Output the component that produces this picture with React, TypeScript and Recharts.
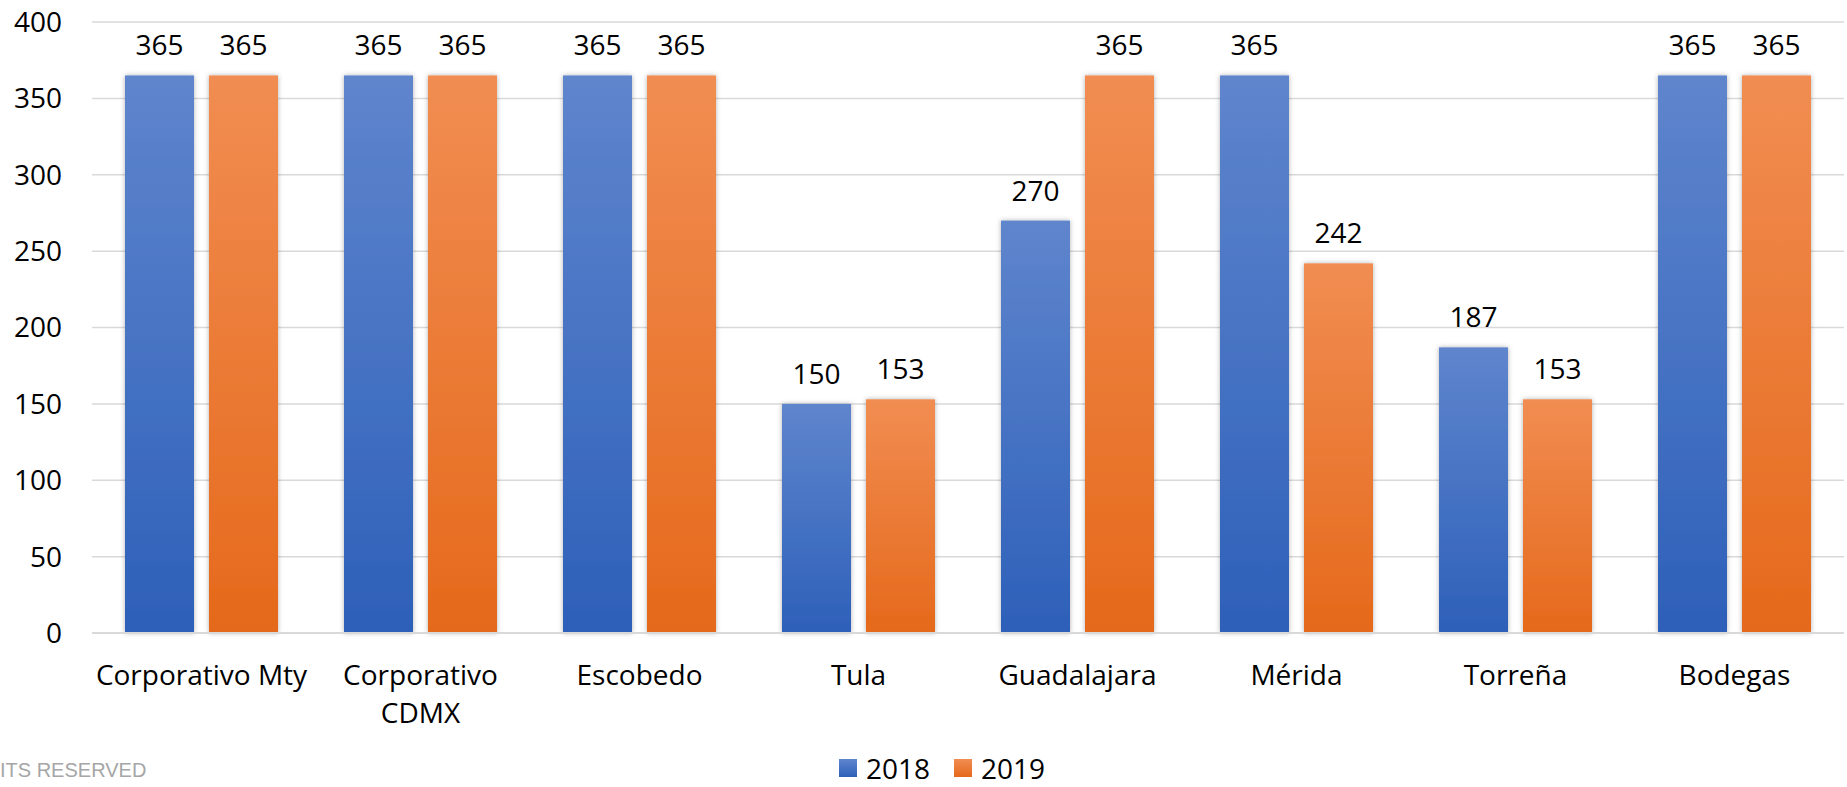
import React from 'react';
import { BarChart, Bar, XAxis, YAxis, CartesianGrid, Legend, LabelList } from 'recharts';

const categories = [
  'Corporativo Mty',
  'Corporativo CDMX',
  'Escobedo',
  'Tula',
  'Guadalajara',
  'Mérida',
  'Torreña',
  'Bodegas',
];
const values2018 = [365, 365, 365, 150, 270, 365, 187, 365];
const values2019 = [365, 365, 365, 153, 365, 242, 153, 365];
const yTicks = [0, 50, 100, 150, 200, 250, 300, 350, 400];

const chartData = categories.map((name, i) => ({
  name,
  y2018: values2018[i],
  y2019: values2019[i],
}));

const FONT = "'Open Sans', sans-serif";

// long labels break onto two lines, like the Excel original
const splitLabel = (label: string): string[] => {
  if (label.length <= 15) return [label];
  const cut = label.lastIndexOf(' ');
  return [label.slice(0, cut), label.slice(cut + 1)];
};

const CategoryTick = (props: any) => {
  const { x, y, payload } = props;
  const lines = splitLabel(String(payload.value));
  return (
    <text x={x} y={y} textAnchor="middle" fill="#000" fontSize={28} fontFamily={FONT}>
      {lines.map((line, i) => (
        <tspan key={i} x={x} dy={i === 0 ? 44 : 38}>
          {line}
        </tspan>
      ))}
    </text>
  );
};

const ShadowBar = (props: any) => {
  const { x, y, width, height, fill } = props;
  if (!height || height <= 0) return null;
  return <rect x={x} y={y} width={width} height={height} fill={fill} filter="url(#barShadow)" />;
};

const legendItems = [
  { label: '2018', from: '#5F85CD', to: '#2D60B9' },
  { label: '2019', from: '#F18D52', to: '#E5691B' },
];

const LegendContent = () => (
  <div style={{ display: 'flex', alignItems: 'center', height: 38, fontFamily: FONT }}>
    {legendItems.map((item, i) => (
      <div key={item.label} style={{ display: 'flex', alignItems: 'center', marginLeft: i === 0 ? 0 : 24 }}>
        <span
          style={{
            width: 18,
            height: 18,
            background: `linear-gradient(${item.from}, ${item.to})`,
            display: 'inline-block',
          }}
        />
        <span style={{ marginLeft: 9, fontSize: 28, lineHeight: '38px', color: '#000' }}>{item.label}</span>
      </div>
    ))}
  </div>
);

export default function App() {
  return (
    <div
      style={{
        position: 'absolute',
        left: 0,
        top: 0,
        width: 1847,
        height: 787,
        background: '#fff',
        fontFamily: FONT,
        overflow: 'hidden',
      }}
    >
      <BarChart
        width={1847}
        height={787}
        data={chartData}
        margin={{ top: 22, right: 3, left: 0, bottom: 6 }}
        barSize={69}
        barGap={15}
      >
        <defs>
          <linearGradient id="grad2018" x1="0" y1="0" x2="0" y2="1">
            <stop offset="0%" stopColor="#5F85CD" />
            <stop offset="100%" stopColor="#2D60B9" />
          </linearGradient>
          <linearGradient id="grad2019" x1="0" y1="0" x2="0" y2="1">
            <stop offset="0%" stopColor="#F18D52" />
            <stop offset="100%" stopColor="#E5691B" />
          </linearGradient>
          <filter id="barShadow" x="-20%" y="-10%" width="140%" height="120%">
            <feDropShadow dx="0" dy="0" stdDeviation="2.5" floodColor="#000" floodOpacity="0.3" />
          </filter>
        </defs>
        <CartesianGrid vertical={false} stroke="#D9D9D9" strokeWidth={1.5} />
        <XAxis
          dataKey="name"
          interval={0}
          tickLine={false}
          axisLine={{ stroke: '#D9D9D9', strokeWidth: 2 }}
          height={110}
          tick={<CategoryTick />}
        />
        <YAxis
          domain={[0, 400]}
          ticks={yTicks}
          width={92}
          tickLine={false}
          axisLine={false}
          tickMargin={24}
          tick={{ fill: '#000', fontSize: 28, fontFamily: FONT }}
        />
        <Legend
          content={<LegendContent />}
          verticalAlign="bottom"
          wrapperStyle={{ left: 839, top: 749, width: 'auto', height: 38 }}
        />
        <Bar dataKey="y2018" name="2018" fill="url(#grad2018)" shape={<ShadowBar />} isAnimationActive={false}>
          <LabelList dataKey="y2018" position="top" offset={20} fill="#000" fontSize={28} fontFamily={FONT} />
        </Bar>
        <Bar dataKey="y2019" name="2019" fill="url(#grad2019)" shape={<ShadowBar />} isAnimationActive={false}>
          <LabelList dataKey="y2019" position="top" offset={20} fill="#000" fontSize={28} fontFamily={FONT} />
        </Bar>
      </BarChart>
      <div
        style={{
          position: 'absolute',
          left: 0,
          top: 758,
          fontFamily: "'Liberation Sans', Arial, sans-serif",
          fontSize: 20,
          color: '#A6A6A6',
          lineHeight: '24px',
        }}
      >
        ITS RESERVED
      </div>
    </div>
  );
}
